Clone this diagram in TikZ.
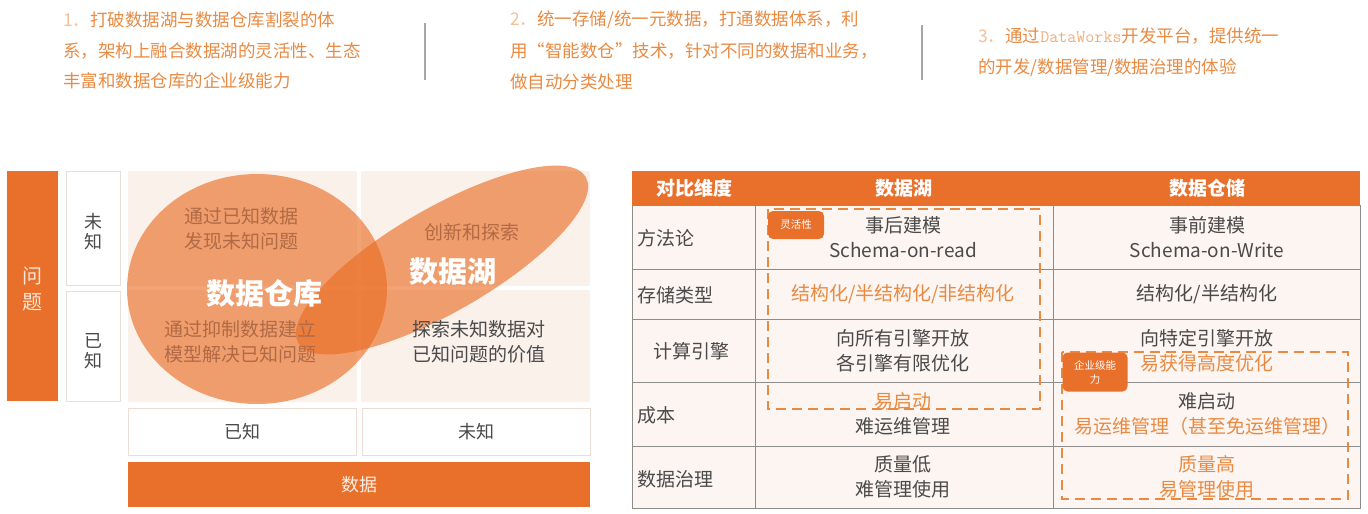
\documentclass[tikz,border=0pt]{standalone}
\usepackage{fontspec}
\setmainfont{Noto Sans CJK SC}
\usetikzlibrary{calc}
\definecolor{naranja}{HTML}{E9702B}
\definecolor{naranjat}{HTML}{E98A42}
\definecolor{melocoton}{HTML}{FBF1EB}
\definecolor{fondotab}{HTML}{FCF5F1}
\definecolor{gristxt}{HTML}{4A4A4A}
\definecolor{grislin}{HTML}{8C8C8C}
\definecolor{marron}{HTML}{B06A45}
\definecolor{borde}{HTML}{EBDDD3}
\definecolor{mancha}{HTML}{EA6B20}
\tikzset{
  barra/.style    = {fill=naranja},
  celda/.style    = {fill=melocoton},
  caja/.style     = {draw=borde, fill=white, line width=0.6pt},
  forma/.style    = {fill=mancha, fill opacity=0.62},
  txt/.style      = {font=\fontsize{19}{25}\selectfont, text=gristxt, align=center, inner sep=0pt},
  txtn/.style     = {txt, text=naranjat},
  cab/.style      = {font=\fontsize{19}{23}\selectfont\bfseries, text=white, inner sep=0pt},
  intro/.style    = {font=\fontsize{17.5}{21}\selectfont, text=naranjat, anchor=west, inner sep=0pt},
  marco/.style    = {draw=naranjat, line width=2.6pt, dash pattern=on 10pt off 6pt},
  insignia/.style = {fill=naranja, rounded corners=5pt, text=white, align=center, inner sep=0pt,
                     font=\fontsize{10.5}{14}\selectfont},
  rejilla/.style  = {draw=grislin, line width=0.9pt}
}

\begin{document}
\begin{tikzpicture}[x=1pt, y=-1pt]
  \useasboundingbox (0,0) rectangle (1368,514);

  \node[intro] (a1) at (63,20) {{\color{naranjat!55}1．}打破数据湖与数据仓库割裂的体};
  \node[intro] (a2) at (63,51) {系，架构上融合数据湖的灵活性、生态};
  \node[intro] (a3) at (63,81) {丰富和数据仓库的企业级能力};
  \draw[gray!70, line width=1.5pt] (425,23) -- (425,80);

  \node[intro] (b1) at (510,20) {{\color{naranjat!55}2．}统一存储/统一元数据，打通数据体系，利};
  \node[intro] (b2) at (510,51) {用“智能数仓”技术，针对不同的数据和业务，};
  \node[intro] (b3) at (510,82) {做自动分类处理};
  \draw[gray!70, line width=1.5pt] (922,25) -- (922,80);

  \node[intro] (c1) at (978,36) {{\color{naranjat!55}3．}通过{\ttfamily\color{naranjat!70}DataWorks}开发平台，提供统一};
  \node[intro] (c2) at (978,68) {的开发/数据管理/数据治理的体验};

  \fill[barra] (7,171) rectangle (58,401);
  \node[txt, text=white!82!naranja, font=\fontsize{20}{26}\selectfont] (wenti) at (33,289) {问\\题};
  \draw[caja] (66,171) rectangle (120,285);
  \draw[caja] (66,291) rectangle (120,401);
  \node[txt, font=\fontsize{18}{20}\selectfont] (qw) at (93,232) {未\\知};
  \node[txt, font=\fontsize{18}{20}\selectfont] (qy) at (93,351) {已\\知};

  \fill[celda] (128,171) rectangle (357,286);
  \fill[celda] (361,171) rectangle (590,286);
  \fill[celda] (128,290) rectangle (357,402);
  \fill[celda] (361,290) rectangle (590,402);

  \fill[forma] (257,289) ellipse[x radius=130, y radius=115];
  \fill[forma, rotate around={30:(442,260)}] (442,260) ellipse[x radius=166, y radius=52];

  \node[txt, text=marron] (c1a) at (241,229) {通过已知数据\\发现未知问题};
  \node[txt, text=white, font=\fontsize{29}{32}\selectfont\bfseries] (cang) at (264,293) {数据仓库};
  \node[txt, text=marron] (c1b) at (240,342) {通过抑制数据建立\\模型解决已知问题};
  \node[txt, text=marron] (e1a) at (472,232) {创新和探索};
  \node[txt, text=white, font=\fontsize{29}{32}\selectfont\bfseries] (hu) at (453,272) {数据湖};
  \node[txt] (e1b) at (479,342) {探索未知数据对\\已知问题的价值};

  \draw[caja] (128,408) rectangle (356,455);
  \draw[caja] (362,408) rectangle (590,455);
  \node[txt, font=\fontsize{18}{20}\selectfont] (dy) at (242,432) {已知};
  \node[txt, font=\fontsize{18}{20}\selectfont] (dw) at (476,432) {未知};
  \fill[barra] (128,462) rectangle (590,507);
  \node[txt, text=white!88!naranja, font=\fontsize{18}{20}\selectfont] (shuju) at (359,485) {数据};

  \fill[fondotab] (632,205) rectangle (1360,508);
  \fill[barra] (632,171) rectangle (1360,205);
  \foreach \y in {269,319,382,446}{
    \draw[rejilla] (632,\y) -- (1360,\y);
  }
  \foreach \x in {755,1053}{
    \draw[rejilla] (\x,171) -- (\x,508);
  }
  \draw[rejilla] (632,205) rectangle (1360,508);

  \node[cab] (h1) at (694,188) {对比维度};
  \node[cab] (h2) at (904,188) {数据湖};
  \node[cab] (h3) at (1207,188) {数据仓储};

  \node[txt, anchor=west] (r1) at (637,238) {方法论};
  \node[txt, anchor=west] (r2) at (637,295) {存储类型};
  \node[txt, anchor=west] (r3) at (653,351) {计算引擎};
  \node[txt, anchor=west] (r4) at (637,415) {成本};
  \node[txt, anchor=west] (r5) at (637,479) {数据治理};

  \node[txt] (l1) at (903,237) {事后建模\\Schema-on-read};
  \node[txtn] (l2) at (903,294) {结构化/半结构化/非结构化};
  \node[txt] (l3) at (903,351) {向所有引擎开放\\各引擎有限优化};
  \node[txt] (l4) at (903,414) {\textcolor{naranjat}{易启动}\\难运维管理};
  \node[txt] (l5) at (903,477) {质量低\\难管理使用};

  \node[txt] (w1) at (1207,237) {事前建模\\Schema-on-Write};
  \node[txt] (w2) at (1207,294) {结构化/半结构化};
  \node[txt] (w3) at (1207,351) {向特定引擎开放\\\textcolor{naranjat}{易获得高度优化}};
  \node[txt] (w4) at (1207,414) {难启动\\\textcolor{naranjat}{易运维管理（甚至免运维管理）}};
  \node[txtn] (w5) at (1207,477) {质量高\\易管理使用};

  \draw[marco] (768,209) rectangle (1040,409);
  \draw[marco] (1062,352) rectangle (1348,499);
  \node[insignia, minimum width=56pt, minimum height=28pt] (flex) at (796,225) {灵活性};
  \node[insignia, minimum width=65pt, minimum height=39pt] (qiye) at (1095,372) {企业级能\\力};
\end{tikzpicture}
\end{document}
